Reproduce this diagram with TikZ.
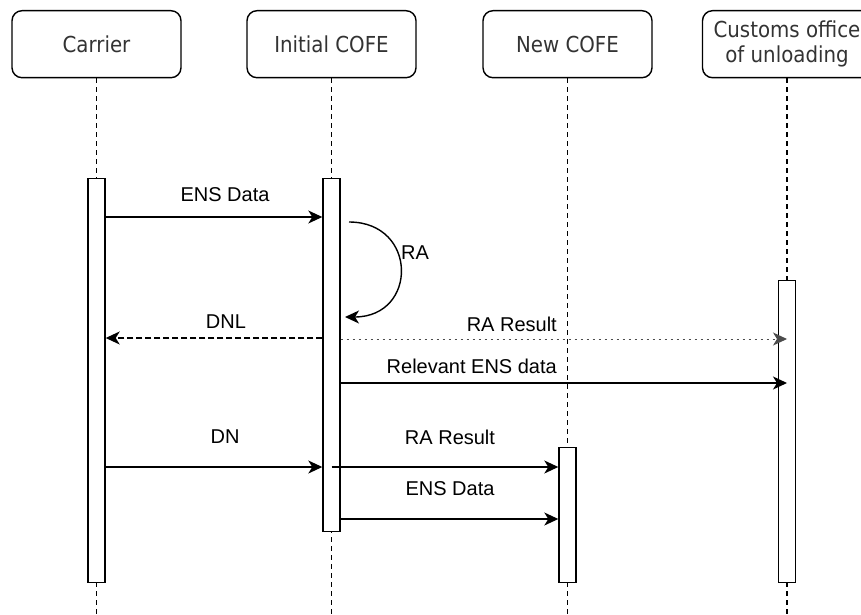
\documentclass[tikz,border=0pt]{standalone}
\usepackage{fontspec}
\setmainfont{Liberation Sans}
\newfontfamily\headfont[FakeStretch=0.9]{DejaVu Sans}
\usetikzlibrary{arrows.meta}
\definecolor{headgray}{RGB}{51,51,51}

\begin{document}
\begin{tikzpicture}[
    x=1pt,y=-1pt,
    head/.style={draw,rounded corners=10pt,line width=1.4pt,minimum width=169pt,minimum height=67pt,inner sep=0pt,anchor=north,align=center,text=headgray,font=\headfont\fontsize{22}{25}\selectfont},
    bar/.style={draw,fill=white,line width=1.4pt,minimum width=17pt,inner sep=0pt,anchor=north},
    life/.style={line width=1.2pt,dash pattern=on 5pt off 4pt},
    msg/.style={-{Stealth[length=14pt,width=13pt,inset=4pt]},line width=1.4pt},
    reply/.style={msg,dash pattern=on 6pt off 3pt},
    note/.style={msg,black!70,line width=1pt,dash pattern=on 2.5pt off 3.5pt},
    lbl/.style={inner sep=0pt,font=\fontsize{20}{24}\selectfont}
]
\clip (0,0) rectangle (861,615);

% participants
\node[head] (carrier)  at (96.5,10)  {Carrier};
\node[head] (initial)  at (331.5,10) {Initial COFE};
\node[head] (newcofe)  at (567.5,10) {New COFE};
\node[head] (customs)  at (787,10)   {Customs office\\of unloading};

% lifelines
\foreach \p in {carrier,initial,newcofe,customs}
    \draw[life] (\p.south) -- (\p.south |- 0,615);

% activation bars
\node[bar,minimum height=404pt] (carrierbar) at (carrier.south |- 0,178) {};
\node[bar,minimum height=353pt] (initialbar) at (initial.south |- 0,178) {};
\node[bar,minimum height=135pt] (newbar)     at (newcofe.south |- 0,447) {};
\node[bar,minimum height=302pt] (customsbar) at (customs.south |- 0,280) {};

% messages
\draw[msg] (carrierbar.east |- 0,217) -- (initialbar.west |- 0,217);
\node[lbl] (ens1) at (225,195) {ENS Data};

\coordinate (rastart) at (349,222);
\coordinate (raend) at (345,317);
\draw[msg] (rastart) .. controls (418,222) and (418,317) .. (raend);
\node[lbl,anchor=west] (ra) at (401,253) {RA};

\draw[reply] (initialbar.west |- 0,338) -- (carrierbar.east |- 0,338);
\node[lbl] (dnl) at (226,322) {DNL};

\draw[note] (initialbar.east |- 0,339) -- (customsbar.center |- 0,339);
\node[lbl,anchor=east] (rares1) at (557,324) {RA Result};

\draw[msg] (initialbar.east |- 0,383) -- (customsbar.center |- 0,383);
\node[lbl,anchor=east] (rel) at (557,366) {Relevant ENS data};

\draw[msg] (carrierbar.east |- 0,467) -- (initialbar.west |- 0,467);
\node[lbl] (dn) at (225,437) {DN};

\draw[msg] (initialbar.center |- 0,467) -- (newbar.west |- 0,467);
\node[lbl] (rares2) at (450,437) {RA Result};

\draw[msg] (initialbar.east |- 0,519) -- (newbar.west |- 0,519);
\node[lbl] (ens2) at (450,489) {ENS Data};
\end{tikzpicture}
\end{document}
